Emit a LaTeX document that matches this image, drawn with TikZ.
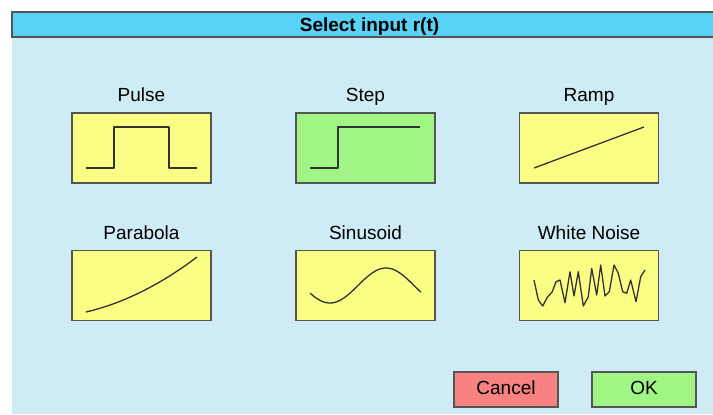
\documentclass[tikz,border=0pt]{standalone}
\usepackage{fontspec}
\setmainfont{Liberation Sans}
\definecolor{barcyan}{HTML}{58D3F7}
\definecolor{panelbg}{HTML}{CFEBF5}
\definecolor{boxyellow}{HTML}{FBFE84}
\definecolor{boxgreen}{HTML}{A1F585}
\definecolor{btnred}{HTML}{F88181}
\definecolor{edge}{HTML}{555555}
\definecolor{curve}{HTML}{333333}
\tikzset{
  sigbox/.style={draw=edge, line width=1.2bp, fill=boxyellow, minimum width=139bp, minimum height=70bp, inner sep=0pt},
  btnbox/.style={draw=edge, line width=1.2bp, minimum width=104bp, minimum height=35bp, inner sep=0pt},
  lbl/.style={anchor=base, inner sep=0pt, font=\fontsize{19bp}{22bp}\selectfont},
  wave/.style={draw=curve, line width=1.3bp, line join=round},
}
\begin{document}
\begin{tikzpicture}[x=1bp, y=-1bp]
\useasboundingbox (0,0) rectangle (713,414);
% panel and title bar
\fill[panelbg] (12,12) rectangle (713,414);
\filldraw[fill=barcyan, draw=edge, line width=1.2bp] (12,12) rectangle (714,37);
\node[lbl, font=\fontsize{19bp}{22bp}\selectfont\bfseries] (title) at (369.5,31) {Select input r(t)};
% signal boxes
\node[sigbox] (pulse) at (141.5,148) {};
\node[sigbox, fill=boxgreen] (step) at (365.5,148) {};
\node[sigbox] (ramp) at (589,148) {};
\node[sigbox] (parabola) at (141.5,285.5) {};
\node[sigbox] (sinusoid) at (365.5,285.5) {};
\node[sigbox] (noise) at (589,285.5) {};
% labels
\node[lbl] (lpulse) at (141.5,101) {Pulse};
\node[lbl] (lstep) at (365.5,101) {Step};
\node[lbl] (lramp) at (589,101) {Ramp};
\node[lbl] (lparabola) at (141.5,239) {Parabola};
\node[lbl] (lsinusoid) at (365.5,239) {Sinusoid};
\node[lbl] (lnoise) at (589,239) {White Noise};
% waveforms
\draw[wave] (86,168) -- (114,168) -- (114,127) -- (169,127) -- (169,168) -- (197,168);
\draw[wave] (310,168) -- (338,168) -- (338,127) -- (420,127);
\draw[wave] (534,168) -- (644,127);
\draw[wave] (86,312) .. controls (123,303.3) and (160,285) .. (197,257);
\draw[wave] plot[domain=-20:91, samples=60, smooth] ({330+\x}, {285.5+17.5*cos(3.2142857*\x)});
\draw[wave] (534,280) -- (538.3,300) -- (542.7,306) -- (547.3,297.3) -- (552.3,291.7) -- (556,281.7) -- (560,280) -- (565,302.7) -- (570,271.7) -- (574,296) -- (578.3,271.7) -- (583.3,306) -- (588.3,296.7) -- (591.7,268.3) -- (596.7,295) -- (600.7,265) -- (605,296) -- (609.3,291.7) -- (614,265) -- (618.3,273.3) -- (622.7,291.7) -- (626.7,293.3) -- (630.7,280) -- (636,301.7) -- (640.7,276.7) -- (645,270);
% buttons
\node[btnbox, fill=btnred] (cancel) at (506,389.5) {};
\node[btnbox, fill=boxgreen] (ok) at (644,389.5) {};
\node[lbl] (lcancel) at (506,394) {Cancel};
\node[lbl] (lok) at (644,394) {OK};
\end{tikzpicture}
\end{document}
